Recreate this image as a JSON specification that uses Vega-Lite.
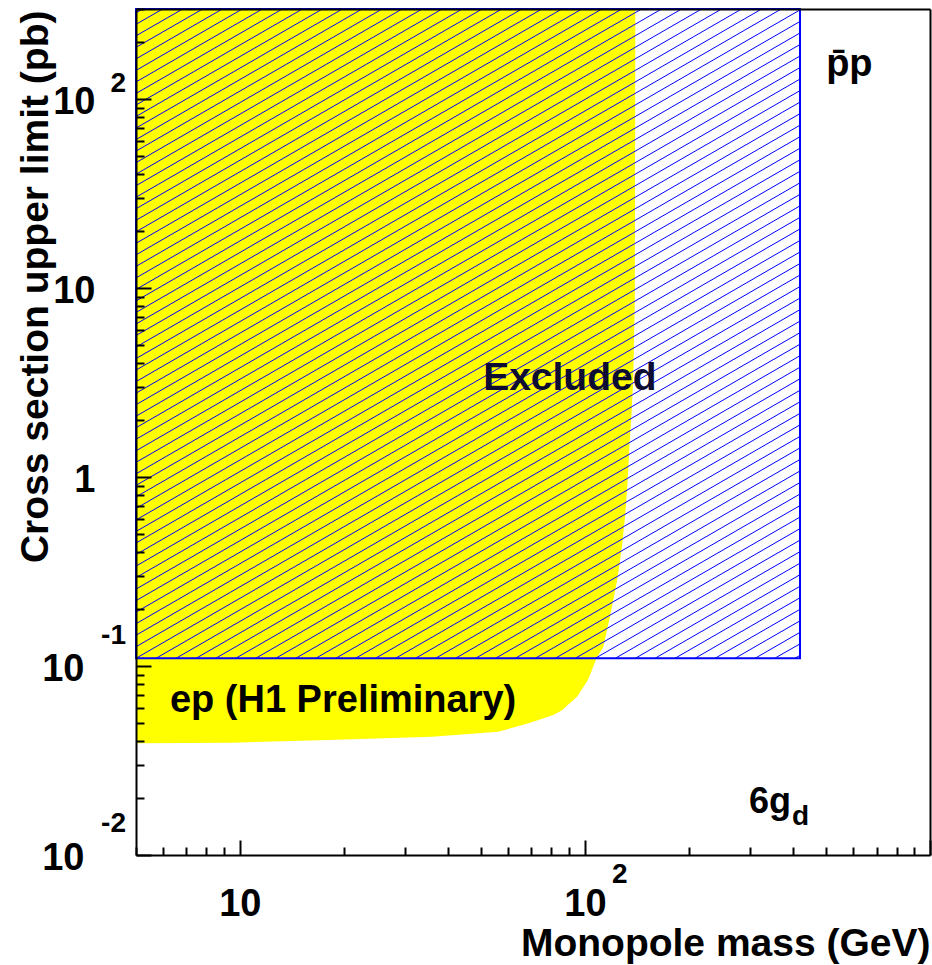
{
  "$schema": "https://vega.github.io/schema/vega-lite/v6.json",
  "width": 794,
  "height": 846,
  "autosize": {"type": "none"},
  "padding": {"left": 136, "top": 9, "right": 2, "bottom": 110},
  "background": "white",
  "config": {
    "view": {"stroke": null},
    "font": "Liberation Sans"
  },
  "datasets": {
    "h1": [
      {"mass": 5, "limit": 0.039},
      {"mass": 9.4, "limit": 0.0393},
      {"mass": 18, "limit": 0.0406},
      {"mass": 36, "limit": 0.0423},
      {"mass": 56, "limit": 0.0449},
      {"mass": 69, "limit": 0.05},
      {"mass": 81, "limit": 0.0551},
      {"mass": 86, "limit": 0.0585},
      {"mass": 95, "limit": 0.069},
      {"mass": 102, "limit": 0.0844},
      {"mass": 104, "limit": 0.0919},
      {"mass": 108, "limit": 0.11},
      {"mass": 113, "limit": 0.126},
      {"mass": 118, "limit": 0.18},
      {"mass": 124, "limit": 0.285},
      {"mass": 128, "limit": 0.427},
      {"mass": 131, "limit": 0.645},
      {"mass": 133, "limit": 0.965},
      {"mass": 134.5, "limit": 1.44},
      {"mass": 136.5, "limit": 2.18},
      {"mass": 138, "limit": 3.3},
      {"mass": 139.5, "limit": 8.6},
      {"mass": 140, "limit": 300}
    ],
    "ppbar": [
      {"mass_lo": 5, "mass_hi": 420, "limit": 0.11, "top": 300}
    ],
    "hatch": [
      {"u1": 0.699, "v1": 2.457, "u2": 0.718, "v2": 2.477},
      {"u1": 0.699, "v1": 2.396, "u2": 0.776, "v2": 2.477},
      {"u1": 0.699, "v1": 2.335, "u2": 0.834, "v2": 2.477},
      {"u1": 0.699, "v1": 2.274, "u2": 0.892, "v2": 2.477},
      {"u1": 0.699, "v1": 2.213, "u2": 0.949, "v2": 2.477},
      {"u1": 0.699, "v1": 2.152, "u2": 1.007, "v2": 2.477},
      {"u1": 0.699, "v1": 2.091, "u2": 1.065, "v2": 2.477},
      {"u1": 0.699, "v1": 2.030, "u2": 1.123, "v2": 2.477},
      {"u1": 0.699, "v1": 1.969, "u2": 1.181, "v2": 2.477},
      {"u1": 0.699, "v1": 1.908, "u2": 1.239, "v2": 2.477},
      {"u1": 0.699, "v1": 1.847, "u2": 1.297, "v2": 2.477},
      {"u1": 0.699, "v1": 1.786, "u2": 1.354, "v2": 2.477},
      {"u1": 0.699, "v1": 1.725, "u2": 1.412, "v2": 2.477},
      {"u1": 0.699, "v1": 1.664, "u2": 1.470, "v2": 2.477},
      {"u1": 0.699, "v1": 1.603, "u2": 1.528, "v2": 2.477},
      {"u1": 0.699, "v1": 1.542, "u2": 1.586, "v2": 2.477},
      {"u1": 0.699, "v1": 1.481, "u2": 1.644, "v2": 2.477},
      {"u1": 0.699, "v1": 1.420, "u2": 1.702, "v2": 2.477},
      {"u1": 0.699, "v1": 1.359, "u2": 1.759, "v2": 2.477},
      {"u1": 0.699, "v1": 1.298, "u2": 1.817, "v2": 2.477},
      {"u1": 0.699, "v1": 1.237, "u2": 1.875, "v2": 2.477},
      {"u1": 0.699, "v1": 1.176, "u2": 1.933, "v2": 2.477},
      {"u1": 0.699, "v1": 1.115, "u2": 1.991, "v2": 2.477},
      {"u1": 0.699, "v1": 1.054, "u2": 2.049, "v2": 2.477},
      {"u1": 0.699, "v1": 0.993, "u2": 2.107, "v2": 2.477},
      {"u1": 0.699, "v1": 0.932, "u2": 2.164, "v2": 2.477},
      {"u1": 0.699, "v1": 0.871, "u2": 2.222, "v2": 2.477},
      {"u1": 0.699, "v1": 0.810, "u2": 2.280, "v2": 2.477},
      {"u1": 0.699, "v1": 0.749, "u2": 2.338, "v2": 2.477},
      {"u1": 0.699, "v1": 0.688, "u2": 2.396, "v2": 2.477},
      {"u1": 0.699, "v1": 0.627, "u2": 2.454, "v2": 2.477},
      {"u1": 0.699, "v1": 0.566, "u2": 2.512, "v2": 2.477},
      {"u1": 0.699, "v1": 0.505, "u2": 2.569, "v2": 2.477},
      {"u1": 0.699, "v1": 0.444, "u2": 2.623, "v2": 2.472},
      {"u1": 0.699, "v1": 0.383, "u2": 2.623, "v2": 2.411},
      {"u1": 0.699, "v1": 0.322, "u2": 2.623, "v2": 2.350},
      {"u1": 0.699, "v1": 0.261, "u2": 2.623, "v2": 2.289},
      {"u1": 0.699, "v1": 0.200, "u2": 2.623, "v2": 2.228},
      {"u1": 0.699, "v1": 0.139, "u2": 2.623, "v2": 2.167},
      {"u1": 0.699, "v1": 0.078, "u2": 2.623, "v2": 2.106},
      {"u1": 0.699, "v1": 0.017, "u2": 2.623, "v2": 2.045},
      {"u1": 0.699, "v1": -0.044, "u2": 2.623, "v2": 1.984},
      {"u1": 0.699, "v1": -0.105, "u2": 2.623, "v2": 1.923},
      {"u1": 0.699, "v1": -0.166, "u2": 2.623, "v2": 1.862},
      {"u1": 0.699, "v1": -0.227, "u2": 2.623, "v2": 1.801},
      {"u1": 0.699, "v1": -0.288, "u2": 2.623, "v2": 1.740},
      {"u1": 0.699, "v1": -0.349, "u2": 2.623, "v2": 1.679},
      {"u1": 0.699, "v1": -0.410, "u2": 2.623, "v2": 1.618},
      {"u1": 0.699, "v1": -0.471, "u2": 2.623, "v2": 1.557},
      {"u1": 0.699, "v1": -0.532, "u2": 2.623, "v2": 1.496},
      {"u1": 0.699, "v1": -0.593, "u2": 2.623, "v2": 1.435},
      {"u1": 0.699, "v1": -0.654, "u2": 2.623, "v2": 1.374},
      {"u1": 0.699, "v1": -0.715, "u2": 2.623, "v2": 1.313},
      {"u1": 0.699, "v1": -0.776, "u2": 2.623, "v2": 1.252},
      {"u1": 0.699, "v1": -0.837, "u2": 2.623, "v2": 1.191},
      {"u1": 0.699, "v1": -0.898, "u2": 2.623, "v2": 1.130},
      {"u1": 0.699, "v1": -0.959, "u2": 2.623, "v2": 1.069},
      {"u1": 0.757, "v1": -0.959, "u2": 2.623, "v2": 1.008},
      {"u1": 0.815, "v1": -0.959, "u2": 2.623, "v2": 0.947},
      {"u1": 0.873, "v1": -0.959, "u2": 2.623, "v2": 0.886},
      {"u1": 0.930, "v1": -0.959, "u2": 2.623, "v2": 0.825},
      {"u1": 0.988, "v1": -0.959, "u2": 2.623, "v2": 0.764},
      {"u1": 1.046, "v1": -0.959, "u2": 2.623, "v2": 0.703},
      {"u1": 1.104, "v1": -0.959, "u2": 2.623, "v2": 0.642},
      {"u1": 1.162, "v1": -0.959, "u2": 2.623, "v2": 0.581},
      {"u1": 1.220, "v1": -0.959, "u2": 2.623, "v2": 0.520},
      {"u1": 1.278, "v1": -0.959, "u2": 2.623, "v2": 0.459},
      {"u1": 1.335, "v1": -0.959, "u2": 2.623, "v2": 0.398},
      {"u1": 1.393, "v1": -0.959, "u2": 2.623, "v2": 0.337},
      {"u1": 1.451, "v1": -0.959, "u2": 2.623, "v2": 0.276},
      {"u1": 1.509, "v1": -0.959, "u2": 2.623, "v2": 0.215},
      {"u1": 1.567, "v1": -0.959, "u2": 2.623, "v2": 0.154},
      {"u1": 1.625, "v1": -0.959, "u2": 2.623, "v2": 0.093},
      {"u1": 1.683, "v1": -0.959, "u2": 2.623, "v2": 0.032},
      {"u1": 1.741, "v1": -0.959, "u2": 2.623, "v2": -0.029},
      {"u1": 1.798, "v1": -0.959, "u2": 2.623, "v2": -0.090},
      {"u1": 1.856, "v1": -0.959, "u2": 2.623, "v2": -0.151},
      {"u1": 1.914, "v1": -0.959, "u2": 2.623, "v2": -0.212},
      {"u1": 1.972, "v1": -0.959, "u2": 2.623, "v2": -0.273},
      {"u1": 2.030, "v1": -0.959, "u2": 2.623, "v2": -0.334},
      {"u1": 2.088, "v1": -0.959, "u2": 2.623, "v2": -0.395},
      {"u1": 2.146, "v1": -0.959, "u2": 2.623, "v2": -0.456},
      {"u1": 2.203, "v1": -0.959, "u2": 2.623, "v2": -0.517},
      {"u1": 2.261, "v1": -0.959, "u2": 2.623, "v2": -0.578},
      {"u1": 2.319, "v1": -0.959, "u2": 2.623, "v2": -0.639},
      {"u1": 2.377, "v1": -0.959, "u2": 2.623, "v2": -0.700},
      {"u1": 2.435, "v1": -0.959, "u2": 2.623, "v2": -0.761},
      {"u1": 2.493, "v1": -0.959, "u2": 2.623, "v2": -0.822},
      {"u1": 2.550, "v1": -0.959, "u2": 2.623, "v2": -0.883},
      {"u1": 2.608, "v1": -0.959, "u2": 2.623, "v2": -0.944}
    ],
    "notes": [
      {"mass": 6.27, "limit": 0.0573, "label": "ep (H1 Preliminary)"},
      {"mass": 500, "limit": 132.6, "label": "p̄p"}
    ],
    "gd": [
      {"mass": 299, "limit": 0.01674, "label": "6g"}
    ],
    "excl": [
      {"mass": 50.7, "limit": 2.89, "label": "Excluded"}
    ],
    "sub": [
      {"mass": 398, "limit": 0.01441, "label": "d"}
    ],
    "yexp": [
      {"mass": 4.677, "limit": 120.3, "label": "2"},
      {"mass": 4.677, "limit": 0.1442, "label": "-1"},
      {"mass": 4.677, "limit": 0.01459, "label": "-2"}
    ],
    "xexp": [
      {"mass": 119.8, "limit": 0.00784, "label": "2"}
    ]
  },
  "layer": [
    {
      "layer": [
        {
          "data": {"name": "h1"},
          "mark": {"type": "area", "color": "#ffff00", "opacity": 1},
          "encoding": {
            "x": {
              "field": "mass", "type": "quantitative",
              "scale": {"type": "log", "domain": [5, 1000], "nice": false},
              "axis": {
                "title": "Monopole mass (GeV)",
                "values": [5, 6, 7, 8, 9, 10, 20, 30, 40, 50, 60, 70, 80, 90, 100, 200, 300, 400, 500, 600, 700, 800, 900, 1000],
                "labelExpr": "datum.value == 10 || datum.value == 100 ? '10' : ''",
                "tickSize": {"condition": {"test": "datum.value == 10 || datum.value == 100 || datum.value == 1000", "value": -15}, "value": -8},
                "labelPadding": 75,
                "labelBaseline": "alphabetic",
                "labelAlign": "center",
                "labelFont": "Liberation Sans", "labelFontSize": 38, "labelFontWeight": "bold", "labelColor": "black",
                "labelOverlap": false, "labelFlush": false, "labelBound": false,
                "titleFont": "Liberation Sans", "titleFontSize": 39, "titleFontWeight": "bold", "titleColor": "black",
                "titleAnchor": "end", "titleAlign": "right", "titleBaseline": "alphabetic", "titleX": 794, "titleY": 100,
                "domainColor": "black", "domainWidth": 2, "tickColor": "black", "tickWidth": 2,
                "grid": false, "zindex": 1
              }
            },
            "y": {
              "field": "limit", "type": "quantitative",
              "scale": {"type": "log", "domain": [0.01, 300], "nice": false},
              "axis": {
                "title": "Cross section upper limit (pb)",
                "values": [0.01, 0.02, 0.03, 0.04, 0.05, 0.06, 0.07, 0.08, 0.09, 0.1, 0.2, 0.3, 0.4, 0.5, 0.6, 0.7, 0.8, 0.9, 1, 2, 3, 4, 5, 6, 7, 8, 9, 10, 20, 30, 40, 50, 60, 70, 80, 90, 100, 200, 300],
                "labelExpr": "datum.value == 1 ? '1' : ((datum.value == 0.01 || datum.value == 0.1 || datum.value == 10 || datum.value == 100) ? '10' : '')",
                "tickSize": {"condition": {"test": "datum.value == 0.01 || datum.value == 0.1 || datum.value == 1 || datum.value == 10 || datum.value == 100", "value": -15}, "value": -8},
                "labelPadding": {"condition": {"test": "datum.value < 0.5", "value": 67}, "value": 56},
                "labelBaseline": "alphabetic",
                "labelOffset": 14,
                "labelAlign": "right",
                "labelFont": "Liberation Sans", "labelFontSize": 38, "labelFontWeight": "bold", "labelColor": "black",
                "labelOverlap": false, "labelFlush": false, "labelBound": false,
                "titleFont": "Liberation Sans", "titleFontSize": 39, "titleFontWeight": "bold", "titleColor": "black",
                "titleAngle": 270, "titleAlign": "right", "titleBaseline": "alphabetic", "titleX": -89, "titleY": 1,
                "domainColor": "black", "domainWidth": 2, "tickColor": "black", "tickWidth": 2,
                "grid": false, "zindex": 1
              }
            },
            "y2": {"datum": 300}
          }
        }
      ]
    },
    {
      "data": {"name": "hatch"},
      "mark": {"type": "rule", "color": "#0000ff", "strokeWidth": 1},
      "encoding": {
        "x": {
          "field": "u1", "type": "quantitative",
          "scale": {"domain": [0.69897, 3], "nice": false, "zero": false},
          "axis": {"orient": "top", "title": null, "labels": false, "ticks": false, "domainColor": "black", "domainWidth": 2, "grid": false, "zindex": 1}
        },
        "y": {
          "field": "v1", "type": "quantitative",
          "scale": {"domain": [-2, 2.47712], "nice": false, "zero": false},
          "axis": {"orient": "right", "title": null, "labels": false, "ticks": false, "domainColor": "black", "domainWidth": 2, "grid": false, "zindex": 1}
        },
        "x2": {"field": "u2"},
        "y2": {"field": "v2"}
      }
    },
    {
      "layer": [
        {
          "data": {"name": "ppbar"},
          "mark": {"type": "rect", "fill": null, "fillOpacity": 0, "stroke": "#0000ff", "strokeWidth": 2},
          "encoding": {
            "x": {"field": "mass_lo", "type": "quantitative", "scale": {"type": "log", "domain": [5, 1000], "nice": false}, "axis": null},
            "x2": {"field": "mass_hi"},
            "y": {"field": "limit", "type": "quantitative", "scale": {"type": "log", "domain": [0.01, 300], "nice": false}, "axis": null},
            "y2": {"field": "top"}
          }
        },
        {
          "data": {"name": "notes"},
          "mark": {"type": "text", "font": "Liberation Sans", "fontSize": 38, "fontWeight": "bold", "color": "black", "align": "left", "baseline": "alphabetic"},
          "encoding": {
            "x": {"field": "mass", "type": "quantitative", "scale": {"type": "log", "domain": [5, 1000], "nice": false}, "axis": null},
            "y": {"field": "limit", "type": "quantitative", "scale": {"type": "log", "domain": [0.01, 300], "nice": false}, "axis": null},
            "text": {"field": "label"}
          }
        },
        {
          "data": {"name": "gd"},
          "mark": {"type": "text", "font": "Liberation Sans", "fontSize": 36, "fontWeight": "bold", "color": "black", "align": "left", "baseline": "alphabetic"},
          "encoding": {
            "x": {"field": "mass", "type": "quantitative", "scale": {"type": "log", "domain": [5, 1000], "nice": false}, "axis": null},
            "y": {"field": "limit", "type": "quantitative", "scale": {"type": "log", "domain": [0.01, 300], "nice": false}, "axis": null},
            "text": {"field": "label"}
          }
        },
        {
          "data": {"name": "excl"},
          "mark": {"type": "text", "font": "Liberation Sans", "fontSize": 39, "fontWeight": "bold", "color": "#0d0d33", "align": "left", "baseline": "alphabetic"},
          "encoding": {
            "x": {"field": "mass", "type": "quantitative", "scale": {"type": "log", "domain": [5, 1000], "nice": false}, "axis": null},
            "y": {"field": "limit", "type": "quantitative", "scale": {"type": "log", "domain": [0.01, 300], "nice": false}, "axis": null},
            "text": {"field": "label"}
          }
        },
        {
          "data": {"name": "sub"},
          "mark": {"type": "text", "font": "Liberation Sans", "fontSize": 28, "fontWeight": "bold", "color": "black", "align": "left", "baseline": "alphabetic"},
          "encoding": {
            "x": {"field": "mass", "type": "quantitative", "scale": {"type": "log", "domain": [5, 1000], "nice": false}, "axis": null},
            "y": {"field": "limit", "type": "quantitative", "scale": {"type": "log", "domain": [0.01, 300], "nice": false}, "axis": null},
            "text": {"field": "label"}
          }
        },
        {
          "data": {"name": "yexp"},
          "mark": {"type": "text", "font": "Liberation Sans", "fontSize": 28, "fontWeight": "bold", "color": "black", "align": "right", "baseline": "middle"},
          "encoding": {
            "x": {"field": "mass", "type": "quantitative", "scale": {"type": "log", "domain": [5, 1000], "nice": false}, "axis": null},
            "y": {"field": "limit", "type": "quantitative", "scale": {"type": "log", "domain": [0.01, 300], "nice": false}, "axis": null},
            "text": {"field": "label"}
          }
        },
        {
          "data": {"name": "xexp"},
          "mark": {"type": "text", "font": "Liberation Sans", "fontSize": 28, "fontWeight": "bold", "color": "black", "align": "left", "baseline": "middle"},
          "encoding": {
            "x": {"field": "mass", "type": "quantitative", "scale": {"type": "log", "domain": [5, 1000], "nice": false}, "axis": null},
            "y": {"field": "limit", "type": "quantitative", "scale": {"type": "log", "domain": [0.01, 300], "nice": false}, "axis": null},
            "text": {"field": "label"}
          }
        }
      ]
    }
  ],
  "resolve": {
    "scale": {"x": "independent", "y": "independent"},
    "axis": {"x": "independent", "y": "independent"}
  }
}
